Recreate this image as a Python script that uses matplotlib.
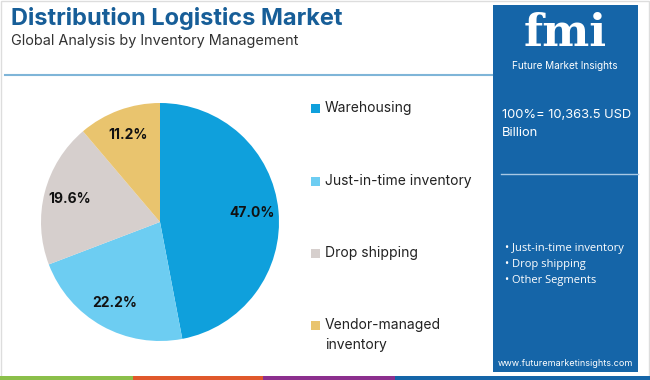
import matplotlib
matplotlib.use("Agg")
import matplotlib.pyplot as plt
from matplotlib.patches import Rectangle
import numpy as np

categories = ["Warehousing", "Just-in-time inventory", "Drop shipping", "Vendor-managed\ninventory"]
values = [47.0, 22.2, 19.6, 11.2]
colors = ["#0fa0dc", "#6dcdf2", "#d6cfcd", "#e9c46e"]
side_bullets = ["Just-in-time inventory", "Drop shipping", "Other Segments"]

W, H = 650, 380
fig = plt.figure(figsize=(W / 100, H / 100), dpi=100)
fig.patch.set_facecolor("white")

def fx(x): return x / W
def fy(y): return 1 - y / H

# frame
fig.add_artist(Rectangle((fx(1), fy(379)), fx(648), 378 / H, transform=fig.transFigure,
                         fill=False, edgecolor="#dddddd", lw=1))

# title
fig.text(fx(11), fy(18), "Distribution Logistics Market", fontsize=17, fontweight="bold",
         color="#175e98", family="Inter", va="center", ha="left")
fig.text(fx(11), fy(41), "Global Analysis by Inventory Management", fontsize=10.4,
         color="#333333", family="Inter", va="center", ha="left")

# separator line
fig.add_artist(plt.Line2D([fx(5), fx(492)], [fy(75), fy(75)], transform=fig.transFigure,
                          color="#7fb5d8", lw=1.5))

# bottom stripes
stripes = [(0, 133, "#8bbf4a"), (133, 263, "#e0582b"), (263, 395, "#8c2f8e"), (395, 650, "#1565a8")]
for x0, x1, c in stripes:
    fig.add_artist(Rectangle((fx(x0), 0), fx(x1 - x0), 4 / H, transform=fig.transFigure,
                             color=c, lw=0))

# right panel
fig.add_artist(Rectangle((fx(493), fy(372)), fx(145), 367 / H, transform=fig.transFigure,
                         color="#1565a8", lw=0))
fig.text(fx(565), fy(34), "fmi", fontsize=32, fontweight="bold", color="white",
         family="DejaVu Serif", ha="center", va="center")
fig.text(fx(565), fy(66), "Future Market Insights", fontsize=7.2, color="white",
         family="Inter", ha="center", va="center")
fig.text(fx(502), fy(124), "100%= 10,363.5 USD\nBillion", fontsize=9.3, color="white",
         family="Inter", ha="left", va="center", linespacing=1.75)
fig.add_artist(plt.Line2D([fx(501), fx(638)], [fy(174), fy(174)], transform=fig.transFigure,
                          color="#a8c8e4", lw=1))
for i, b in enumerate(side_bullets):
    fig.text(fx(505), fy(248 + i * 16.5), "\u2022 " + b, fontsize=8, color="white",
             family="Open Sans", ha="left", va="center")
fig.text(fx(565), fy(364), "www.futuremarketinsights.com", fontsize=6.5, color="white",
         family="Inter", ha="center", va="center")

# pie
cx, cy, r = 160, 222, 119
ax = fig.add_axes([fx(cx - r), fy(cy + r), fx(2 * r), 2 * r / H])
wedges, texts = ax.pie(values, colors=colors, startangle=90, counterclock=False,
                       radius=1, wedgeprops=dict(lw=0))
ax.set_xlim(-1, 1); ax.set_ylim(-1, 1)
ax.set_aspect("equal")
ax.axis("off")
ang = 90
for v, w in zip(values, wedges):
    mid = np.deg2rad(ang - v * 3.6 / 2)
    ang -= v * 3.6
    ax.text(0.78 * np.cos(mid), 0.78 * np.sin(mid), f"{v:.1f}%", ha="center", va="center",
            fontsize=10, fontweight="bold", color="#111111", family="Inter")

# legend
ys = [108, 181, 253, 335]
for lab, c, y in zip(categories, colors, ys):
    yy = 325 if "\n" in lab else y
    fig.add_artist(Rectangle((fx(311), fy(yy + 5)), fx(9), 9 / H, transform=fig.transFigure,
                             color=c, lw=0))
    fig.text(fx(325), fy(y), lab, fontsize=10, color="#222222", family="Inter",
             ha="left", va="center", linespacing=1.55)

fig.savefig("out.png", dpi=100)
